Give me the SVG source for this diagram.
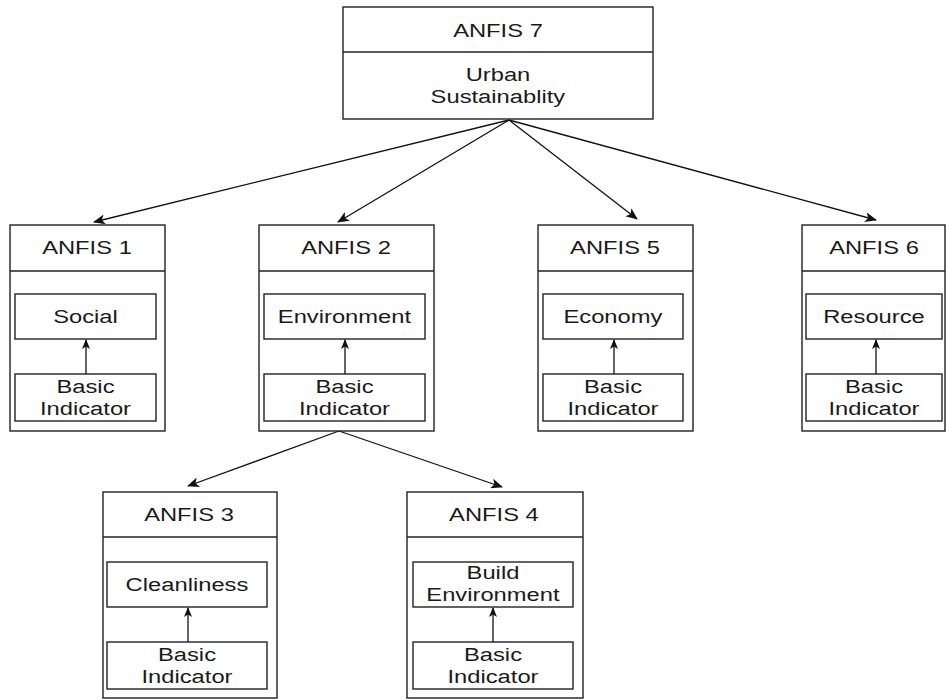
<svg xmlns="http://www.w3.org/2000/svg" width="946" height="700" viewBox="0 0 946 700">
  <defs>
    <style>
      .box { fill: #ffffff; stroke: #222; stroke-width: 1.4; }
      .div { stroke: #222; stroke-width: 1.4; }
      .t { font-family: "Liberation Sans", Arial, sans-serif; font-size: 18px; fill: #1a1a1a; text-anchor: middle; transform: scaleX(1.32); transform-box: fill-box; transform-origin: center; }
      .conn { stroke: #111; stroke-width: 1.3; fill: none; marker-end: url(#arr); }
      .inner { stroke: #111; stroke-width: 1.3; fill: none; marker-end: url(#arrs); }
    </style>
    <marker id="arr" viewBox="0 0 12 10" refX="11" refY="5" markerWidth="12" markerHeight="10" markerUnits="userSpaceOnUse" orient="auto">
      <path d="M0,0 L12,5 L0,10 L3,5 z" fill="#111"/>
    </marker>
    <marker id="arrs" viewBox="0 0 10 8" refX="9" refY="4" markerWidth="10" markerHeight="8" markerUnits="userSpaceOnUse" orient="auto">
      <path d="M0,0 L10,4 L0,8 L2.5,4 z" fill="#111"/>
    </marker>
  </defs>
  <rect width="946" height="700" fill="#ffffff"/>

  <g id="connectors">
    <line class="conn" x1="509" y1="120" x2="94" y2="222"/>
    <line class="conn" x1="509" y1="120" x2="338" y2="222"/>
    <line class="conn" x1="509" y1="120" x2="637" y2="219"/>
    <line class="conn" x1="509" y1="120" x2="876" y2="220"/>
    <line class="conn" x1="339" y1="431" x2="188" y2="486"/>
    <line class="conn" x1="339" y1="431" x2="502" y2="487"/>
  </g>

  <g id="anfis7">
    <rect class="box" x="343" y="7" width="310" height="112"/>
    <line class="div" x1="343" y1="52" x2="653" y2="52"/>
    <text class="t" x="498" y="37">ANFIS 7</text>
    <text class="t" x="498" y="81">Urban</text>
    <text class="t" x="498" y="103">Sustainablity</text>
  </g>

  <g id="anfis1">
    <rect class="box" x="10" y="225" width="155" height="206"/>
    <line class="div" x1="10" y1="271" x2="165" y2="271"/>
    <text class="t" x="87" y="254">ANFIS 1</text>
    <rect class="box" x="15" y="294" width="141" height="45"/>
    <text class="t" x="85.5" y="323">Social</text>
    <rect class="box" x="15" y="374" width="141" height="47"/>
    <text class="t" x="85.5" y="393">Basic</text>
    <text class="t" x="85.5" y="415">Indicator</text>
    <line class="inner" x1="86" y1="374" x2="86" y2="340"/>
  </g>

  <g id="anfis2">
    <rect class="box" x="259" y="225" width="175" height="206"/>
    <line class="div" x1="259" y1="271" x2="434" y2="271"/>
    <text class="t" x="346" y="254">ANFIS 2</text>
    <rect class="box" x="264" y="294" width="161" height="45"/>
    <text class="t" x="344.5" y="323">Environment</text>
    <rect class="box" x="264" y="374" width="161" height="47"/>
    <text class="t" x="344.5" y="393">Basic</text>
    <text class="t" x="344.5" y="415">Indicator</text>
    <line class="inner" x1="345" y1="374" x2="345" y2="340"/>
  </g>

  <g id="anfis5">
    <rect class="box" x="538" y="225" width="155" height="206"/>
    <line class="div" x1="538" y1="271" x2="693" y2="271"/>
    <text class="t" x="615" y="254">ANFIS 5</text>
    <rect class="box" x="543" y="294" width="140" height="45"/>
    <text class="t" x="613" y="323">Economy</text>
    <rect class="box" x="543" y="374" width="140" height="47"/>
    <text class="t" x="613" y="393">Basic</text>
    <text class="t" x="613" y="415">Indicator</text>
    <line class="inner" x1="614" y1="374" x2="614" y2="340"/>
  </g>

  <g id="anfis6">
    <rect class="box" x="802" y="225" width="143" height="206"/>
    <line class="div" x1="802" y1="271" x2="945" y2="271"/>
    <text class="t" x="874" y="254">ANFIS 6</text>
    <rect class="box" x="806" y="294" width="136" height="45"/>
    <text class="t" x="874" y="323">Resource</text>
    <rect class="box" x="806" y="374" width="136" height="47"/>
    <text class="t" x="874" y="393">Basic</text>
    <text class="t" x="874" y="415">Indicator</text>
    <line class="inner" x1="876" y1="374" x2="876" y2="340"/>
  </g>

  <g id="anfis3">
    <rect class="box" x="103" y="492" width="174" height="206"/>
    <line class="div" x1="103" y1="537" x2="277" y2="537"/>
    <text class="t" x="189" y="521">ANFIS 3</text>
    <rect class="box" x="107" y="562" width="160" height="45"/>
    <text class="t" x="187" y="591">Cleanliness</text>
    <rect class="box" x="107" y="642" width="160" height="47"/>
    <text class="t" x="187" y="661">Basic</text>
    <text class="t" x="187" y="683">Indicator</text>
    <line class="inner" x1="188" y1="642" x2="188" y2="608"/>
  </g>

  <g id="anfis4">
    <rect class="box" x="407" y="492" width="176" height="206"/>
    <line class="div" x1="407" y1="537" x2="583" y2="537"/>
    <text class="t" x="494" y="521">ANFIS 4</text>
    <rect class="box" x="413" y="562" width="160" height="45"/>
    <text class="t" x="493" y="579">Build</text>
    <text class="t" x="493" y="601">Environment</text>
    <rect class="box" x="413" y="642" width="160" height="47"/>
    <text class="t" x="493" y="661">Basic</text>
    <text class="t" x="493" y="683">Indicator</text>
    <line class="inner" x1="493" y1="642" x2="493" y2="608"/>
  </g>
</svg>
